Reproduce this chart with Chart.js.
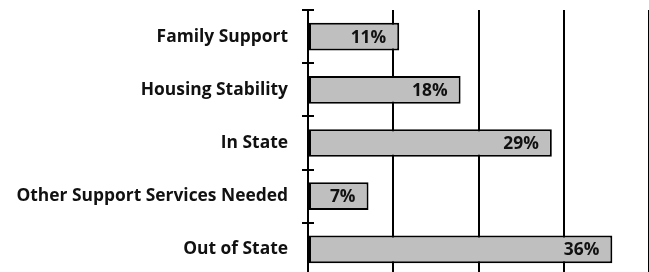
<!DOCTYPE html>
<html>
<head>
<meta charset="utf-8">
<script src="https://cdn.jsdelivr.net/npm/chart.js@4/dist/chart.umd.min.js"></script>
<style>
  html, body { margin: 0; padding: 0; background: #fff; overflow: hidden; }
  #wrap { width: 649px; height: 276px; }
</style>
</head>
<body>
<div id="wrap"><canvas id="chart"></canvas></div>
<script>
const categories = ['Family Support', 'Housing Stability', 'In State', 'Other Support Services Needed', 'Out of State'];
// bar lengths as measured on the picture; the printed labels are these rounded
const percentValues = [10.7, 17.9, 28.6, 7.1, 35.7];
const xTicks = [0, 10, 20, 30, 40];

const fontFamily = '"Open Sans", "Liberation Sans", sans-serif';
const fontSize = 17.4;

// writes the percent at the inner end of each bar
const barLabels = {
  id: 'barLabels',
  afterDatasetsDraw(chart) {
    const ctx = chart.ctx;
    const meta = chart.getDatasetMeta(0);
    ctx.save();
    ctx.font = 'bold ' + fontSize + 'px ' + fontFamily;
    ctx.fillStyle = '#111';
    ctx.textAlign = 'right';
    ctx.textBaseline = 'middle';
    meta.data.forEach((bar, i) => {
      ctx.fillText(Math.round(percentValues[i]) + '%', bar.x - 13, bar.y + 1);
    });
    ctx.restore();
  }
};

// small tick marks crossing the axis between categories
const crossTicks = {
  id: 'crossTicks',
  afterDraw(chart) {
    const ctx = chart.ctx;
    const y = chart.scales.y;
    const x0 = chart.scales.x.getPixelForValue(0);
    const half = (y.getPixelForValue(1) - y.getPixelForValue(0)) / 2;
    ctx.save();
    ctx.strokeStyle = '#000';
    ctx.lineWidth = 2;
    for (let i = 0; i <= categories.length; i++) {
      const py = Math.round(y.getPixelForValue(i) - half);
      ctx.beginPath();
      ctx.moveTo(x0 - 6, py);
      ctx.lineTo(x0 + 6, py);
      ctx.stroke();
    }
    ctx.restore();
  }
};

new Chart(document.getElementById('chart'), {
  type: 'bar',
  data: {
    labels: categories,
    datasets: [{
      data: percentValues,
      backgroundColor: '#bfbfbf',
      borderColor: '#000',
      borderWidth: 2,
      borderSkipped: false,
      barPercentage: 0.52,
      categoryPercentage: 1
    }]
  },
  options: {
    indexAxis: 'y',
    responsive: true,
    maintainAspectRatio: false,
    animation: false,
    layout: { padding: { top: 10, right: 0, bottom: 0, left: 0 } },
    plugins: {
      legend: { display: false },
      tooltip: { enabled: false }
    },
    scales: {
      x: {
        min: xTicks[0],
        max: xTicks[xTicks.length - 1],
        afterBuildTicks(scale) { scale.ticks = xTicks.map(v => ({ value: v })); },
        ticks: { display: false },
        grid: { color: '#000', lineWidth: 2, drawTicks: false },
        border: { display: false }
      },
      y: {
        afterFit(scale) {
          scale.width = 308;
          scale.paddingTop = 0;
          scale.paddingBottom = 0;
        },
        ticks: {
          color: '#111',
          font: { family: fontFamily, size: fontSize, weight: 'bold' },
          padding: 20
        },
        grid: { display: false, drawTicks: false },
        border: { display: true, color: '#000', width: 2 }
      }
    }
  },
  plugins: [barLabels, crossTicks]
});
</script>
</body>
</html>
